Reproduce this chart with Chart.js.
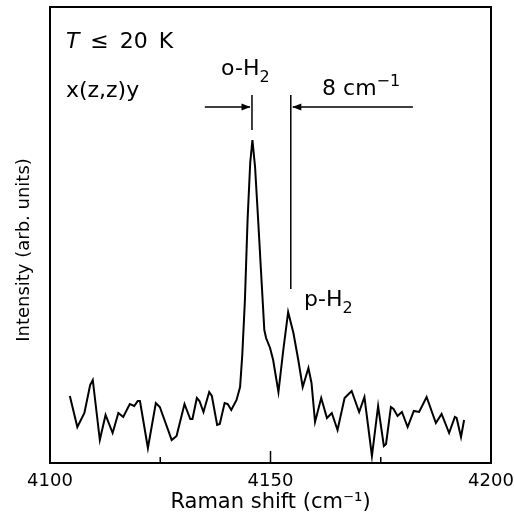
<!DOCTYPE html>
<html>
<head>
<meta charset="utf-8">
<script src="https://cdn.jsdelivr.net/npm/chart.js@4.4.0/dist/chart.umd.min.js"></script>
<style>
  html, body { margin: 0; padding: 0; background: #fff; }
  #wrap { width: 514px; height: 516px; position: relative; }
</style>
</head>
<body>
<div id="wrap"><canvas id="chart"></canvas></div>
<script>
// Raman shift (cm^-1), one entry per vertex of the trace
const ramanShift = [
  4104.5, 4106.2, 4107.8, 4109.1, 4109.7, 4111.3, 4112.6, 4114.2, 4115.5, 4116.6,
  4118.1, 4119.1, 4119.9, 4120.4, 4122.2, 4124.0, 4124.9, 4127.6, 4128.7, 4130.5,
  4131.8, 4132.3, 4133.3, 4133.9, 4134.8, 4136.1, 4136.7, 4137.9, 4138.5, 4139.6,
  4140.3, 4141.1, 4142.3, 4143.1, 4143.6, 4144.2, 4144.8, 4145.4, 4145.9, 4146.5,
  4147.2, 4148.0, 4148.6, 4149.0, 4149.9, 4150.6, 4151.8, 4152.9, 4154.0, 4155.2,
  4156.3, 4157.3, 4158.6, 4159.3, 4160.1, 4161.5, 4162.8, 4163.9, 4165.2, 4166.8,
  4168.4, 4170.1, 4171.3, 4173.0, 4174.4, 4175.7, 4176.2, 4177.3, 4177.9, 4178.8,
  4179.8, 4181.1, 4182.5, 4183.7, 4185.4, 4187.5, 4188.8, 4190.5, 4191.8, 4192.2,
  4193.2, 4193.9
];
// Intensity (arb. units)
const intensity = [
  67, 36, 50, 78, 83, 23, 48, 30, 50, 46,
  59, 57, 62, 62, 15, 60, 56, 23, 27, 59,
  44, 44, 65, 62, 51, 71, 67, 38, 39, 60,
  59, 53, 63, 76, 108, 163, 243, 300, 323, 296,
  243, 180, 133, 125, 115, 103, 71, 113, 151, 130,
  103, 76, 95, 80, 41, 65, 45, 50, 33, 65,
  72, 51, 66, 7, 57, 17, 19, 56, 54, 47,
  51, 36, 52, 51, 66, 40, 49, 30, 46, 45,
  26, 43
];
const xTicks = [4100, 4150, 4200];
const minorTicks = [4125, 4175];

// peak markers (cm^-1)
const orthoLine = 4145.8;
const paraLine = 4154.6;

const FONT = "'DejaVu Sans', 'Liberation Sans', sans-serif";

// rich text: parts like {t, sub, sup, italic, gap}
function drawRich(ctx, parts, x, y, size) {
  let cx = x;
  parts.forEach(p => {
    if (p.gap) { cx += p.gap; return; }
    const s = (p.sub || p.sup) ? Math.round(size * 0.74) : size;
    ctx.font = (p.italic ? 'italic ' : '') + s + 'px ' + FONT;
    let dy = 0;
    if (p.sub) dy = size * 0.3;
    if (p.sup) dy = -size * 0.42;
    ctx.fillText(p.t, cx, y + dy);
    cx += ctx.measureText(p.t).width;
  });
}

function arrowHead(ctx, tipX, y, dir) {
  ctx.beginPath();
  ctx.moveTo(tipX, y);
  ctx.lineTo(tipX - dir * 9, y - 3.5);
  ctx.lineTo(tipX - dir * 9, y + 3.5);
  ctx.closePath();
  ctx.fill();
}

const framePlugin = {
  id: 'frame',
  afterDraw(chart) {
    const { ctx, chartArea: a, scales: { x, y } } = chart;
    ctx.save();
    ctx.strokeStyle = '#000';
    ctx.fillStyle = '#000';
    ctx.lineWidth = 2;
    ctx.strokeRect(a.left, a.top, a.right - a.left, a.bottom - a.top);

    // inward ticks on the bottom axis
    ctx.lineWidth = 1.5;
    ctx.beginPath();
    xTicks.forEach(v => {
      const px = x.getPixelForValue(v);
      ctx.moveTo(px, a.bottom); ctx.lineTo(px, a.bottom - 12);
    });
    minorTicks.forEach(v => {
      const px = x.getPixelForValue(v);
      ctx.moveTo(px, a.bottom); ctx.lineTo(px, a.bottom - 6);
    });
    ctx.stroke();

    // marker lines and arrows
    const ox = x.getPixelForValue(orthoLine);
    const pxl = x.getPixelForValue(paraLine);
    const ay = y.getPixelForValue(356);
    ctx.lineWidth = 1.5;
    ctx.beginPath();
    ctx.moveTo(ox, y.getPixelForValue(368)); ctx.lineTo(ox, y.getPixelForValue(333));
    ctx.moveTo(pxl, y.getPixelForValue(368)); ctx.lineTo(pxl, y.getPixelForValue(174));
    ctx.moveTo(x.getPixelForValue(4135.1), ay); ctx.lineTo(ox - 2, ay);
    ctx.moveTo(x.getPixelForValue(4182.3), ay); ctx.lineTo(pxl + 2, ay);
    ctx.stroke();
    arrowHead(ctx, ox - 1.5, ay, 1);
    arrowHead(ctx, pxl + 1.5, ay, -1);

    // labels
    ctx.textBaseline = 'alphabetic';
    ctx.textAlign = 'left';
    const size = 22;
    drawRich(ctx, [{ t: 'T', italic: true }, { gap: 11 }, { t: '\u2264' }, { gap: 11 }, { t: '20' }, { gap: 11 }, { t: 'K' }],
      x.getPixelForValue(4103.6), y.getPixelForValue(415), size);
    drawRich(ctx, [{ t: 'x(z,z)y' }],
      x.getPixelForValue(4103.6), y.getPixelForValue(366), size);
    drawRich(ctx, [{ t: 'o-H' }, { t: '2', sub: true }],
      x.getPixelForValue(4138.8), y.getPixelForValue(388), size);
    drawRich(ctx, [{ t: '8 cm' }, { t: '\u22121', sup: true }],
      x.getPixelForValue(4161.7), y.getPixelForValue(368), size);
    drawRich(ctx, [{ t: 'p-H' }, { t: '2', sub: true }],
      x.getPixelForValue(4157.6), y.getPixelForValue(157), size);

    // y axis title, set a little below the middle of the frame
    ctx.translate(24, y.getPixelForValue(213));
    ctx.rotate(-Math.PI / 2);
    ctx.textAlign = 'center';
    ctx.textBaseline = 'middle';
    ctx.font = '18px ' + FONT;
    ctx.fillText('Intensity (arb. units)', 0, 0);
    ctx.restore();
  }
};

new Chart(document.getElementById('chart'), {
  type: 'scatter',
  data: {
    datasets: [{
      data: ramanShift.map((v, i) => ({ x: v, y: intensity[i] })),
      showLine: true,
      borderColor: '#000',
      borderWidth: 2,
      pointRadius: 0,
      tension: 0
    }]
  },
  options: {
    responsive: true,
    maintainAspectRatio: false,
    animation: false,
    layout: { padding: { top: 7, right: 23, left: 0, bottom: 0 } },
    plugins: { legend: { display: false }, tooltip: { enabled: false } },
    scales: {
      x: {
        type: 'linear',
        min: 4100,
        max: 4200,
        afterBuildTicks: s => { s.ticks = xTicks.map(v => ({ value: v })); },
        afterFit: s => { s.height = 53; s.paddingLeft = 0; s.paddingRight = 0; },
        grid: { display: false, drawTicks: false },
        border: { display: false },
        ticks: {
          color: '#000',
          font: { family: FONT, size: 18 },
          padding: 8,
          maxRotation: 0,
          autoSkip: false,
          callback: v => String(v)
        },
        title: {
          display: true,
          text: 'Raman shift (cm\u207B\u00B9)',
          color: '#000',
          font: { family: FONT, size: 21 },
          padding: { top: 0, bottom: 1 }
        }
      },
      y: {
        min: 0,
        max: 456,
        afterFit: s => { s.width = 50; },
        grid: { display: false, drawTicks: false },
        border: { display: false },
        ticks: { display: false },
        title: { display: false }
      }
    }
  },
  plugins: [framePlugin]
});
</script>
</body>
</html>
